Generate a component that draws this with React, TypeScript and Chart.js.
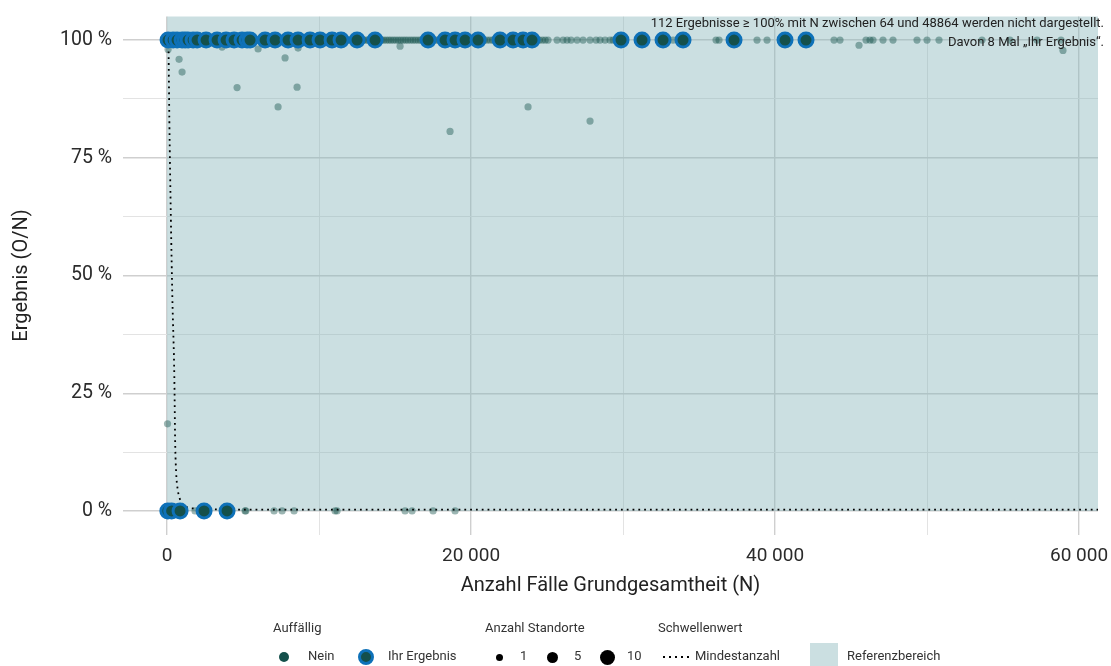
import React, { useEffect, useRef } from "react";
import { Chart, registerables } from "chart.js";

Chart.register(...registerables);

// ---------- axis ticks ----------
const X_TICKS = [0, 10000, 20000, 30000, 40000, 50000, 60000];
const X_LABELED = [0, 20000, 40000, 60000];
const X_LABELS = ["0", "20 000", "40 000", "60 000"];
const Y_TICKS = [0, 0.125, 0.25, 0.375, 0.5, 0.625, 0.75, 0.875, 1];
const Y_LABELED = [0, 0.25, 0.5, 0.75, 1];
const Y_LABELS = ["0 %", "25 %", "50 %", "75 %", "100 %"];
const X_MIN = -2900;
const X_MAX = 61250;
const Y_MIN = -0.05;
const Y_MAX = 1.05;

// ---------- reference area ----------
const REF_X_MIN = 0;
const REF_Y_MIN = 0;

// ---------- "Ihr Ergebnis" ----------
const blueFullN = [
  66, 395, 658, 987, 1184, 1382, 1711, 1974, 2566, 3289, 3882, 4408, 4934, 5263, 5461,
  6447, 7105, 7961, 8618, 9408, 10066, 10855, 11447, 12500, 13684, 17171, 18289, 18947,
  19605, 20461, 21908, 22763, 23421, 24013, 29868, 31250, 32632, 33947, 37303, 40658, 42039,
];
const blueZeroN = [50, 300, 855, 2434, 3947];

// ---------- "Nein" ----------
const neinFullN = [
  15, 40, 90, 150, 210, 280, 350, 420, 500, 580, 650, 730, 810, 900, 980, 1060, 1150, 1240, 1320, 1410,
  1500, 1590, 1680, 1770, 1860, 1950, 2040, 2130, 2230, 2320, 2410, 2500, 2600, 2690, 2790, 2880, 2980, 3070, 3170, 3260,
  3360, 3460, 3550, 3650, 3750, 3850, 3950, 4050, 4150, 4250, 4350, 4460, 4560, 4660, 4770, 4870, 4980, 5080, 5190, 5290,
  5400, 5510, 5620, 5730, 5840, 5950, 6060, 6170, 6280, 6400, 6510, 6620, 6740, 6850, 6970, 7090, 7200, 7320, 7440, 7560,
  7680, 7800, 7920, 8040, 8170, 8290, 8410, 8540, 8660, 8790, 8920, 9040, 9170, 9300, 9430, 9560, 9690, 9820, 9960, 10090,
  10220, 10360, 10490, 10630, 10760, 10900, 11040, 11180, 11320, 11460, 11600, 11740, 11880, 12030, 12170, 12310, 12460, 12610, 12750, 12900,
  13050, 13200, 13350, 13500, 13650, 13800, 13960, 14110, 14260, 14420, 14580, 14730, 14890, 15050, 15210, 15370, 15530, 15690, 15850, 16020,
  16180, 16340, 16510, 16670, 16840, 17010, 17170, 17340, 17510, 17680, 17850, 18020, 18200, 18370, 18540, 18720, 18890, 19070, 19250, 19420,
  19600, 19780, 19960, 20140, 20320, 20500, 20690, 20870, 21050, 21240, 21420, 21610, 21790, 21980, 22170, 22360, 22550, 22740, 22930, 23120,
  23310, 23510, 23700, 23900, 24090, 24290, 24490, 24690, 24880,
  25066, 25658, 26053, 26316, 26579, 26974, 27368, 27829, 28224, 28487, 28816, 29145, 29342, 33289, 36118, 36316,
  38816, 39474, 43882, 44276, 45987, 46250, 46447, 47105, 47763, 49342, 50000, 50789, 53618, 55461, 57237, 58816,
];
const neinPartN = [30, 66, 790, 987, 3618, 4605, 5987, 7303, 7763, 8553, 8618, 15329, 18618, 23750, 27829, 45526, 58947];
const neinPartY = [0.185, 0.98, 0.959, 0.932, 0.985, 0.899, 0.981, 0.858, 0.962, 0.9, 0.983, 0.987, 0.806, 0.858, 0.828, 0.989, 0.978];
const neinZeroN = [1840, 5132, 5180, 7039, 7566, 8355, 11053, 11184, 15658, 16118, 17500, 18947];

// ---------- Mindestanzahl threshold ----------
const mindestN = [90, 150, 250, 350, 480, 530, 600, 680, 800, 1000, 1300, 2000, 4000, 61250];
const mindestY = [1.0, 0.83, 0.62, 0.45, 0.28, 0.15, 0.08, 0.05, 0.03, 0.015, 0.008, 0.005, 0.003, 0.003];

// ---------- texts ----------
const NOTE_LINES = [
  "112 Ergebnisse \u2265 100% mit N zwischen 64 und 48864 werden nicht dargestellt.",
  "Davon 8 Mal \u201EIhr Ergebnis\u201C.",
];
const X_TITLE = "Anzahl F\u00e4lle Grundgesamtheit (N)";
const Y_TITLE = "Ergebnis (O/N)";

const DARK = "#14504b";
const BLUE = "#0e71b8";
const NEIN_FILL = "rgba(20,80,75,0.42)";
const SHADE = "rgba(134,180,185,0.43)";
const FONT = "Roboto";

const refPlugin = {
  id: "refArea",
  beforeDatasetsDraw(chart: any) {
    const { ctx, chartArea, scales } = chart;
    const x0 = scales.x.getPixelForValue(REF_X_MIN);
    const y0 = scales.y.getPixelForValue(REF_Y_MIN);
    ctx.save();
    ctx.fillStyle = SHADE;
    ctx.fillRect(x0, chartArea.top, chartArea.right - x0, y0 - chartArea.top);
    ctx.restore();
  },
  afterDatasetsDraw(chart: any) {
    const { ctx, chartArea } = chart;
    ctx.save();
    ctx.font = `13px ${FONT}`;
    ctx.fillStyle = "#222";
    ctx.textAlign = "right";
    ctx.textBaseline = "middle";
    ctx.fillText(NOTE_LINES[0], chartArea.right + 6, chartArea.top + 7);
    ctx.fillText(NOTE_LINES[1], chartArea.right + 6, chartArea.top + 26);
    ctx.restore();
  },
};

function Dot({ cx, cy, d, fill, border }: { cx: number; cy: number; d: number; fill: string; border?: string }) {
  return (
    <div
      style={{
        position: "absolute",
        left: cx - d / 2,
        top: cy - d / 2,
        width: d,
        height: d,
        borderRadius: "50%",
        background: fill,
        boxSizing: "border-box",
        border: border ? `3px solid ${border}` : "none",
      }}
    />
  );
}

function Txt({ left, cy, text }: { left: number; cy: number; text: string }) {
  return (
    <div
      style={{
        position: "absolute",
        left,
        top: cy - 9,
        height: 18,
        lineHeight: "18px",
        font: `13px ${FONT}`,
        color: "#333",
        whiteSpace: "nowrap",
      }}
    >
      {text}
    </div>
  );
}

const zeroPad = (s: any) => {
  s.paddingTop = 0;
  s.paddingBottom = 0;
  s.paddingLeft = 0;
  s.paddingRight = 0;
};

export default function App() {
  const ref = useRef<HTMLCanvasElement | null>(null);

  useEffect(() => {
    if (!ref.current) return;
    const blueData = [
      ...blueFullN.map((n) => ({ x: n, y: 1 })),
      ...blueZeroN.map((n) => ({ x: n, y: 0 })),
    ];
    const neinData = [
      ...neinFullN.map((n) => ({ x: n, y: 1 })),
      ...neinPartN.map((n, i) => ({ x: n, y: neinPartY[i] })),
      ...neinZeroN.map((n) => ({ x: n, y: 0 })),
    ];
    const lineData = mindestN.map((n, i) => ({ x: n, y: mindestY[i] }));

    const chart = new Chart(ref.current, {
      type: "scatter",
      data: {
        datasets: [
          {
            label: "Ihr Ergebnis",
            data: blueData,
            pointRadius: 7,
            pointBorderWidth: 3,
            pointBackgroundColor: DARK,
            pointBorderColor: BLUE,
            order: 0,
          } as any,
          {
            type: "line",
            label: "Mindestanzahl",
            data: lineData,
            borderColor: "#000",
            borderWidth: 1.8,
            borderDash: [1.8, 4],
            pointRadius: 0,
            cubicInterpolationMode: "monotone",
            fill: false,
            order: 1,
          } as any,
          {
            label: "Nein",
            data: neinData,
            pointRadius: 3.6,
            pointBorderWidth: 0,
            pointBackgroundColor: NEIN_FILL,
            order: 2,
          } as any,
        ],
      },
      options: {
        animation: false,
        responsive: false,
        maintainAspectRatio: false,
        devicePixelRatio: 1,
        events: [],
        layout: { padding: { top: 16.5, right: 13, left: 0, bottom: 0 } },
        plugins: { legend: { display: false }, tooltip: { enabled: false } },
        scales: {
          x: {
            type: "linear",
            min: X_MIN,
            max: X_MAX,
            afterBuildTicks: (s: any) => {
              s.ticks = X_TICKS.map((v) => ({ value: v }));
            },
            afterFit: (s: any) => {
              s.height = 131.5;
              zeroPad(s);
            },
            ticks: {
              autoSkip: false,
              maxRotation: 0,
              padding: 10,
              color: "#2b2b2b",
              font: { family: FONT, size: 19 },
              callback: (v: any) => {
                const i = X_LABELED.indexOf(Number(v));
                return i >= 0 ? X_LABELS[i] : "";
              },
            },
            grid: {
              drawTicks: false,
              color: (c: any) => (X_LABELED.includes(c.tick?.value) ? "#cfcfcf" : "#e3e3e3"),
              lineWidth: (c: any) => (X_LABELED.includes(c.tick?.value) ? 1.4 : 1),
            },
            border: { display: false },
            title: {
              display: true,
              text: X_TITLE,
              color: "#222",
              font: { family: FONT, size: 20 },
              padding: { top: 0, bottom: 68 },
            },
          },
          y: {
            type: "linear",
            min: Y_MIN,
            max: Y_MAX,
            afterBuildTicks: (s: any) => {
              s.ticks = Y_TICKS.map((v) => ({ value: v }));
            },
            afterFit: (s: any) => {
              s.width = 123;
              zeroPad(s);
            },
            ticks: {
              autoSkip: false,
              padding: 11,
              color: "#2b2b2b",
              font: { family: FONT, size: 19.5 },
              callback: (v: any) => {
                const i = Y_LABELED.indexOf(Number(v));
                return i >= 0 ? Y_LABELS[i] : "";
              },
            },
            grid: {
              drawTicks: false,
              color: (c: any) => (Y_LABELED.includes(c.tick?.value) ? "#cfcfcf" : "#e3e3e3"),
              lineWidth: (c: any) => (Y_LABELED.includes(c.tick?.value) ? 1.4 : 1),
            },
            border: { display: false },
            title: {
              display: true,
              text: Y_TITLE,
              color: "#222",
              font: { family: FONT, size: 20 },
              padding: { top: 10, bottom: 0 },
            },
          },
        },
      },
      plugins: [refPlugin],
    } as any);
    return () => chart.destroy();
  }, []);

  return (
    <div
      style={{
        position: "absolute",
        left: 0,
        top: 0,
        width: 1111,
        height: 666,
        overflow: "hidden",
        background: "#fff",
      }}
    >
      <canvas ref={ref} width={1111} height={666} style={{ display: "block", width: 1111, height: 666 }} />
      {/* legend */}
      <Txt left={273} cy={629} text="Auffällig" />
      <Txt left={485} cy={629} text="Anzahl Standorte" />
      <Txt left={658} cy={629} text="Schwellenwert" />

      <Dot cx={284} cy={657} d={10} fill={DARK} />
      <Txt left={308} cy={657} text="Nein" />
      <Dot cx={366} cy={657} d={16} fill={DARK} border={BLUE} />
      <Txt left={388} cy={657} text="Ihr Ergebnis" />

      <Dot cx={499} cy={657} d={7} fill="#000" />
      <Txt left={520} cy={657} text="1" />
      <Dot cx={552} cy={657} d={11} fill="#000" />
      <Txt left={574} cy={657} text="5" />
      <Dot cx={607} cy={657} d={15} fill="#000" />
      <Txt left={627} cy={657} text="10" />

      {[663, 669, 675, 681, 687].map((x) => (
        <div key={x} style={{ position: "absolute", left: x, top: 656, width: 2, height: 2, background: "#000" }} />
      ))}
      <Txt left={695} cy={657} text="Mindestanzahl" />

      <div style={{ position: "absolute", left: 810, top: 643, width: 28, height: 28, background: "#cbdfe1" }} />
      <Txt left={847} cy={657} text="Referenzbereich" />
    </div>
  );
}
